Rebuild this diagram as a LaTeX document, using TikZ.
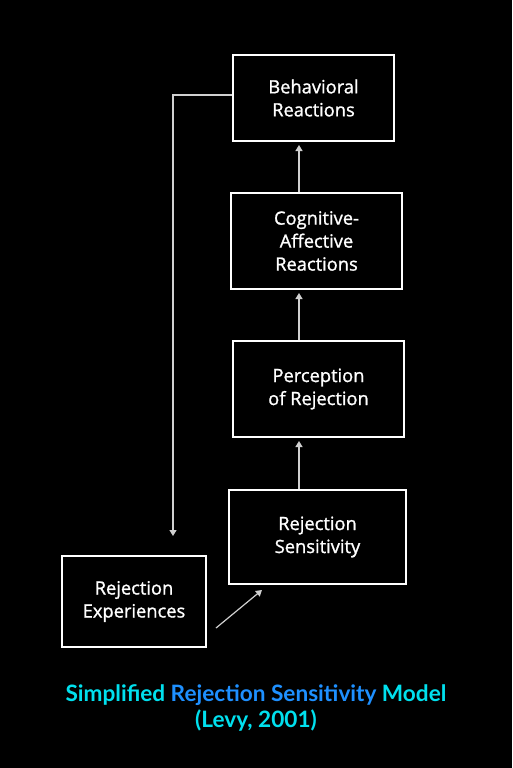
\documentclass[tikz,border=0pt]{standalone}
\usepackage{fontspec}
\setmainfont{Open Sans}
\newfontfamily\boxfont{Open Sans}[FakeBold=1.2]
\newfontfamily\titlefont{Lato}
\usetikzlibrary{arrows.meta}
\definecolor{lnc}{HTML}{D0D0D0}
\definecolor{cyanT}{HTML}{00E0EE}
\definecolor{blueT}{HTML}{1E90FF}
\begin{document}
\begin{tikzpicture}[x=1pt,y=-1pt,
  boxst/.style={draw=white,line width=2pt,fill=black,text=white,align=center,
    font=\boxfont\fontsize{18.3}{23}\selectfont,inner sep=0pt},
  arr/.style={draw=lnc,line width=1.2pt,-{Triangle[length=6pt,width=7pt]}}]
\fill[black] (0,0) rectangle (512,768);
\useasboundingbox (0,0) rectangle (512,768);
\node[boxst,minimum width=161pt,minimum height=86pt] (beh) at (313.5,98) {Behavioral\\Reactions};
\node[boxst,minimum width=171pt,minimum height=96pt] (cog) at (316.5,241) {Cognitive-\\Affective\\Reactions};
\node[boxst,minimum width=171pt,minimum height=96pt] (per) at (318.5,389) {Perception\\of Rejection};
\node[boxst,minimum width=177pt,minimum height=94pt] (sen) at (317.5,537) {Rejection\\Sensitivity};
\node[boxst,minimum width=144pt,minimum height=91pt] (exp) at (134,601.5) {Rejection\\Experiences};
\coordinate (fbtop) at (173,95);
\coordinate (fbend) at (173,536);
\coordinate (a1) at (216,628);
\coordinate (a2) at (262,590);
\draw[arr] (sen.north -| 299,0) -- ([yshift=-3pt]per.south -| 299,0);
\draw[arr] (per.north -| 299,0) -- ([yshift=-3pt]cog.south -| 299,0);
\draw[arr] (cog.north -| 299,0) -- ([yshift=-3pt]beh.south -| 299,0);
\draw[arr] (beh.west |- fbtop) -- (fbtop) -- (fbend);
\draw[arr] (a1) -- (a2);
\node[font=\titlefont\bfseries\fontsize{22.6}{26}\selectfont,align=center] (title) at (256,708)
  {\textcolor{cyanT}{Simplified} \textcolor{blueT}{Rejection Sensitivity} \textcolor{cyanT}{Model}\\\textcolor{cyanT}{(Levy, 2001)}};
\end{tikzpicture}
\end{document}
